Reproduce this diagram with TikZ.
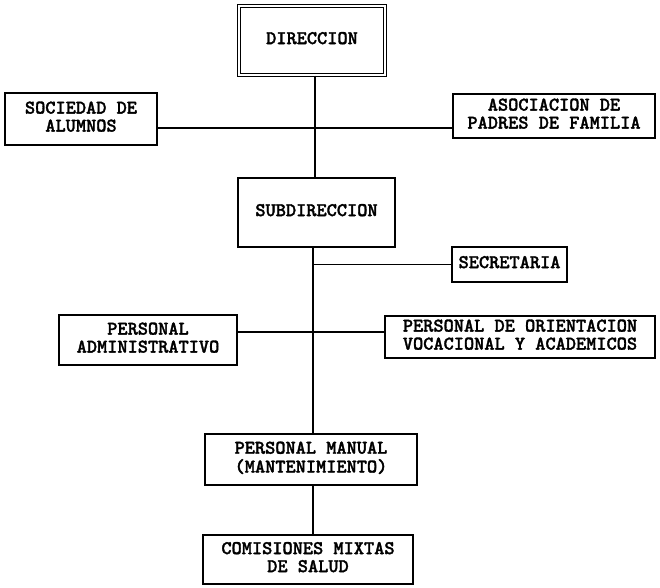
\documentclass[tikz,border=0pt]{standalone}
\usepackage{fontspec}
\newfontfamily\tw{lmmonolt10-bold}[Extension=.otf, FakeBold=1.6]
\newcommand\lbl[1]{{\fontsize{19.4pt}{18pt}\selectfont\tw\begin{tabular}{@{}c@{}}#1\end{tabular}}}
\tikzset{
  box/.style={draw, rectangle, line width=1.5pt, inner sep=0pt},
  conn/.style={line width=1.5pt}
}
\begin{document}
\begin{tikzpicture}[x=1pt,y=-1pt]
\useasboundingbox[fill=white] (0,0) rectangle (660,587);
\node[box, minimum width=146pt, minimum height=69pt, double, double distance=2.5pt, line width=1.2pt] (dir) at (312,40.5) {\lbl{DIRECCION}};
\node[box, minimum width=152pt, minimum height=52pt] (soc) at (81,119) {\lbl{SOCIEDAD DE\\ALUMNOS}};
\node[box, minimum width=202pt, minimum height=44pt] (aso) at (554,116) {\lbl{ASOCIACION DE\\PADRES DE FAMILIA}};
\node[box, minimum width=157pt, minimum height=69pt] (sub) at (316.5,212.5) {\lbl{SUBDIRECCION}};
\node[box, minimum width=115pt, minimum height=35pt] (sec) at (509.5,264.5) {\lbl{SECRETARIA}};
\node[box, minimum width=178pt, minimum height=50pt] (adm) at (148,340) {\lbl{PERSONAL\\ADMINISTRATIVO}};
\node[box, minimum width=270pt, minimum height=42pt] (ori) at (520,337) {\lbl{PERSONAL DE ORIENTACION\\VOCACIONAL Y ACADEMICOS}};
\node[box, minimum width=212pt, minimum height=51pt] (man) at (311,459.5) {\lbl{PERSONAL MANUAL\\(MANTENIMIENTO)}};
\node[box, minimum width=210pt, minimum height=49pt] (com) at (308,559.5) {\lbl{COMISIONES MIXTAS\\DE SALUD}};
\coordinate (ja) at (315,128);
\coordinate (jb) at (313,332);
\draw[conn] (dir.south -| ja) -- (sub.north -| ja);
\draw[conn] (soc.east |- ja) -- (aso.west |- ja);
\draw[conn] (sub.south -| jb) -- (man.north -| jb);
\draw[conn] (sec.west) -- (sec.west -| jb);
\draw[conn] (adm.east |- jb) -- (ori.west |- jb);
\draw[conn] (man.south -| jb) -- (com.north -| jb);
\end{tikzpicture}
\end{document}
